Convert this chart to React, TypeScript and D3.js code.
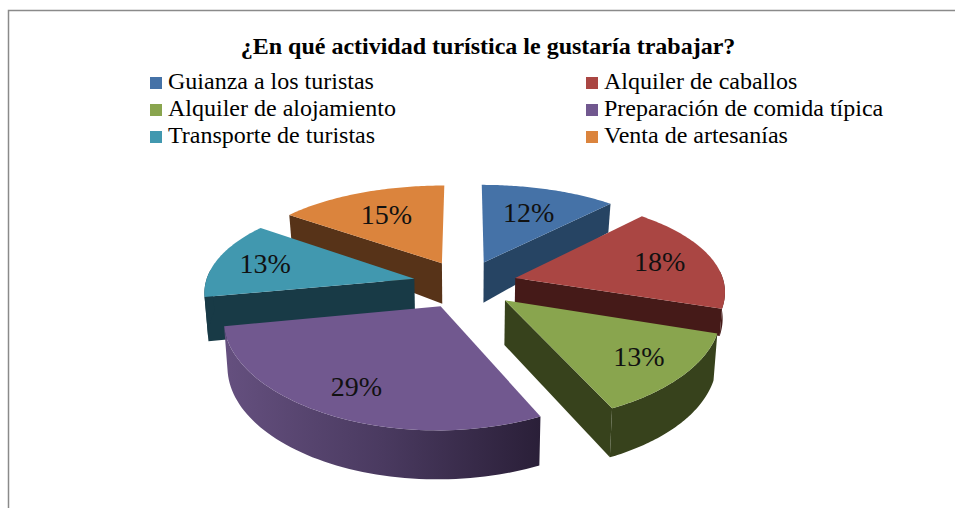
import React from "react";
import * as d3 from "d3";

const categories = ["Guianza a los turistas","Alquiler de caballos","Alquiler de alojamiento","Preparación de comida típica","Transporte de turistas","Venta de artesanías"];
const values = [12,18,13,29,13,15];
const topColors = ["#4572A7","#AA4643","#89A54E","#71588F","#4198AF","#DB843D"];
const sideColors = ["#264463","#451A18","#37421C","#4A3A60","#183A46","#573318"];
const labelRadii = [0.66,0.74,0.77,0.77,0.755,0.66];
const wallDepths = [1,0.6,1,1,1,1];
const paintOrder = [0,5,1,4,2,3];
const title = "¿En qué actividad turística le gustaría trabajar?";

const CX = 465, CY = 284, A = 209, B = 96.3, KX = 0.12, KY = 0.16, E = 0.25;
const serif = "'Liberation Serif', serif";

const px = d3.scaleLinear().domain([0, 1]).range([0, A]);
const py = d3.scaleLinear().domain([0, 1]).range([0, -B]);
function project(X: number, Y: number, bottom = 0): [number, number] {
  const sx = px(X) / (1 + KX * Y);
  const sy = py(Y) / (1 + KY * Y);
  if (!bottom) return [CX + sx, CY + sy];
  return [CX + sx * (1 - 0.015 * bottom), CY + sy + bottom * (43 - 10.4 * Y - 4.5 * Y * Y)];
}
const pie = d3.pie<number>().sort(null).value(d => d);
const arcs = pie(values);
const line = d3.line();

export default function App() {
  const walls: React.ReactNode[] = [];
  paintOrder.forEach(i => {
    const a = arcs[i];
    const mid = (a.startAngle + a.endAngle) / 2;
    const ox = E * Math.sin(mid), oy = E * Math.cos(mid);
    const d = wallDepths[i];
    const pt = (t: number, r: number, b = 0) => project(ox + r * Math.sin(t), oy + r * Math.cos(t), b);
    const angles = d3.range(0, 61).map(k => a.startAngle + (a.endAngle - a.startAngle) * k / 60);
    const top = [pt(0, 0), ...angles.map(t => pt(t, 1))];
    const vis = angles.filter(t => Math.cos(t) < 0.1);
    const wall = (t: number) => [pt(t, 0), pt(t, 1), pt(t, 1, d), pt(t, 0, d)] as [number, number][];
    walls.push(
      <g key={i}>
        {Math.sin(a.startAngle) < 0 && <path d={line(wall(a.startAngle))! + "Z"} fill={sideColors[i]} />}
        {Math.sin(a.endAngle) > 0 && <path d={line(wall(a.endAngle))! + "Z"} fill={sideColors[i]} />}
        {vis.length > 1 && (
          <path
            d={line([...vis.map(t => pt(t, 1)), ...vis.slice().reverse().map(t => pt(t, 1, d))])! + "Z"}
            fill={i === 3 ? "url(#purpleSide)" : sideColors[i]}
          />
        )}
        <path d={line(top)! + "Z"} fill={topColors[i]} />
      </g>
    );
  });
  const labels = arcs.map((a, i) => {
    const mid = (a.startAngle + a.endAngle) / 2;
    const r = labelRadii[i] + E;
    const [x, y] = project(r * Math.sin(mid), r * Math.cos(mid));
    return (
      <text key={i} x={x} y={y} textAnchor="middle" dominantBaseline="central" fontFamily={serif} fontSize={28} fill="#111">
        {Math.round(a.value)}%
      </text>
    );
  });
  return (
    <svg width={955} height={508} style={{ position: "absolute", left: 0, top: 0, background: "#fff" }}>
      <defs>
        <linearGradient id="purpleSide" x1="0" x2="1" y1="0" y2="0">
          <stop offset="0" stopColor="#65507F" />
          <stop offset="0.5" stopColor="#4A3A60" />
          <stop offset="1" stopColor="#2A1F38" />
        </linearGradient>
      </defs>
      <path d="M8.5 508V10.5H955" fill="none" stroke="#8a8a8a" strokeWidth={1.5} />
      <text x={488} y={54} textAnchor="middle" fontFamily={serif} fontWeight="bold" fontSize={24} fill="#000">{title}</text>
      {categories.map((c, i) => {
        const col = i % 2, row = Math.floor(i / 2);
        const x = col === 0 ? 150 : 586;
        const y = 83 + row * 27;
        return (
          <g key={c}>
            <rect x={x} y={y - 6} width={12} height={12} fill={topColors[i]} />
            <text x={x + 18} y={y + 6} fontFamily={serif} fontSize={24} fill="#000">{c}</text>
          </g>
        );
      })}
      {walls}
      {labels}
    </svg>
  );
}
